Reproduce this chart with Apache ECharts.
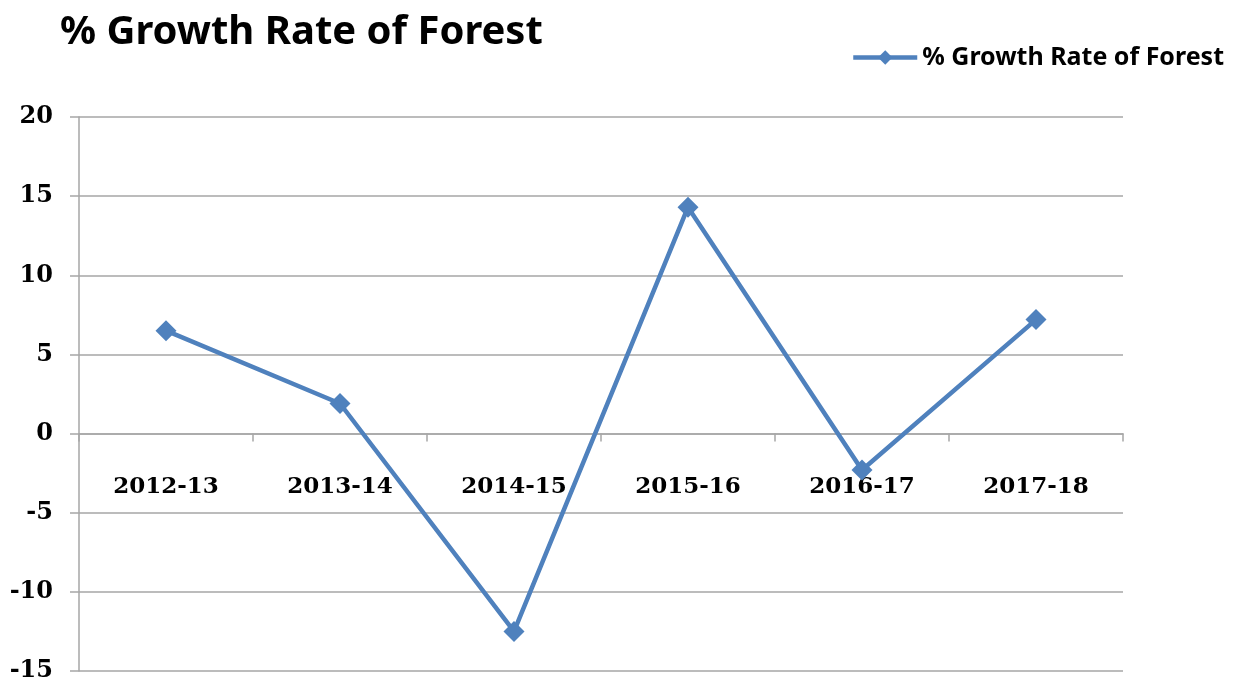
<!DOCTYPE html>
<html>
<head>
<meta charset="utf-8">
<script src="https://cdn.jsdelivr.net/npm/echarts@6/dist/echarts.min.js"></script>
<style>
html,body{margin:0;padding:0;background:#fff;}
#chart{width:1245px;height:683px;}
</style>
</head>
<body>
<div id="chart"></div>
<script>
var categories = ['2012-13', '2013-14', '2014-15', '2015-16', '2016-17', '2017-18'];
var growthRate = [6.5, 1.9, -12.5, 14.3, -2.3, 7.2];
var seriesName = '% Growth Rate of Forest';
var titleText = '% Growth Rate of Forest';

var chart = echarts.init(document.getElementById('chart'));
chart.setOption({
  backgroundColor: '#ffffff',
  animation: false,
  title: {
    text: titleText,
    left: 55,
    top: 8,
    textStyle: { fontFamily: 'Noto Sans', fontWeight: 'bold', fontSize: 40, color: '#000' }
  },
  legend: {
    data: [seriesName],
    right: 16,
    top: 40,
    itemWidth: 64,
    itemHeight: 18,
    itemGap: 4,
    lineStyle: { width: 4.5 },
    textStyle: { fontFamily: 'Noto Sans', fontWeight: 'bold', fontSize: 25, color: '#000' }
  },
  grid: { left: 79, right: 122, top: 117, bottom: 12, containLabel: false, outerBoundsMode: 'none' },
  xAxis: {
    type: 'category',
    data: categories,
    boundaryGap: true,
    axisLine: { onZero: true, lineStyle: { color: '#a6a6a6', width: 1.5 } },
    axisTick: { show: true, length: 8, lineStyle: { color: '#a6a6a6', width: 1.5 } },
    axisLabel: { margin: -195, fontFamily: 'DejaVu Serif', fontWeight: 'bold', fontSize: 23, color: '#000' },
    splitLine: { show: false }
  },
  yAxis: {
    type: 'value',
    min: -15,
    max: 20,
    interval: 5,
    axisLine: { show: true, lineStyle: { color: '#a6a6a6', width: 1.5 } },
    axisTick: { show: true, length: 9, lineStyle: { color: '#a6a6a6', width: 1.5 } },
    axisLabel: { margin: 26, fontFamily: 'DejaVu Serif', fontWeight: 'bold', fontSize: 24, color: '#000' },
    splitLine: { show: true, lineStyle: { color: '#a6a6a6', width: 1.5 } }
  },
  series: [{
    name: seriesName,
    type: 'line',
    data: growthRate,
    symbol: 'diamond',
    symbolSize: 21,
    lineStyle: { color: '#4F81BD', width: 4.5 },
    itemStyle: { color: '#4F81BD' }
  }]
});
</script>
</body>
</html>
